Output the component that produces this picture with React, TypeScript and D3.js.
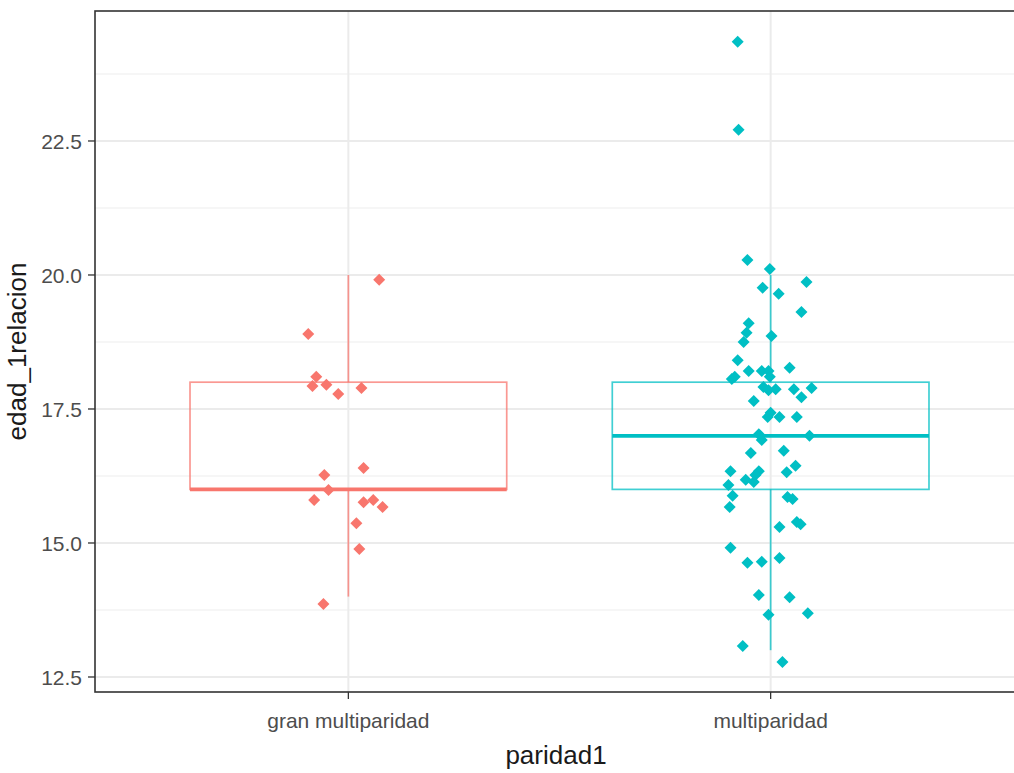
import React from 'react'
import * as d3 from 'd3'

const categories = ['gran multiparidad', 'multiparidad']
const colors = ['#F8766D', '#00BFC4']

// box stats per group: [lower whisker, q1, median, q3, upper whisker]
const boxStats = [
  [14, 16, 16, 18, 20],
  [13, 16, 17, 18, 20],
]

// jittered points: value and horizontal offset (category units)
const granValues = [19.91, 18.9, 18.1, 17.93, 17.95, 17.78, 17.89, 16.27, 16.4, 15.99, 15.8, 15.76, 15.8, 15.67, 15.37, 14.89, 13.86]
const granJitter = [0.073, -0.095, -0.076, -0.085, -0.052, -0.024, 0.031, -0.057, 0.036, -0.047, -0.081, 0.036, 0.059, 0.081, 0.019, 0.026, -0.059]

const multiValues = [
  24.35, 22.71, 20.28, 20.11, 19.76, 19.65, 19.87, 19.31, 19.1, 18.92, 18.75, 18.86, 18.41, 18.21, 18.27, 18.21,
  18.21, 18.1, 18.06, 18.1, 17.91, 17.85, 17.87, 17.87, 17.89, 17.72, 17.65, 17.43, 17.35, 17.35, 17.35, 17.03,
  16.92, 17.0, 16.68, 16.72, 16.34, 16.34, 16.27, 16.18, 16.14, 16.32, 16.44, 16.08, 15.88, 15.67, 15.86, 15.82,
  15.3, 15.39, 15.35, 14.91, 14.63, 14.65, 14.72, 14.03, 13.99, 13.66, 13.69, 13.08, 12.78,
]
const multiJitter = [
  -0.078, -0.076, -0.055, -0.002, -0.019, 0.019, 0.085, 0.073, -0.052, -0.057, -0.064, 0.002, -0.078, -0.052, 0.045, -0.021,
  -0.005, -0.002, -0.092, -0.085, -0.017, -0.005, 0.012, 0.055, 0.097, 0.073, -0.04, 0, -0.007, 0.021, 0.062, -0.028,
  -0.021, 0.092, -0.047, 0.031, -0.095, -0.028, -0.036, -0.059, -0.04, 0.038, 0.059, -0.1, -0.09, -0.097, 0.04, 0.052,
  0.021, 0.062, 0.071, -0.095, -0.055, -0.021, 0.021, -0.028, 0.045, -0.005, 0.088, -0.066, 0.028,
]

const yTicks = [12.5, 15, 17.5, 20, 22.5]
const yMinor = [13.75, 16.25, 18.75, 21.25, 23.75]

const width = 1014
const height = 773
const panel = { left: 95, right: 1024, top: 11, bottom: 692 }
const font = 'Liberation Sans, Arial, Helvetica, sans-serif'

const groups = [
  { values: granValues, jitter: granJitter },
  { values: multiValues, jitter: multiJitter },
]

// ggplot-like discrete scale: positions 1..n with 0.6 expansion
const xPos = d3.scaleLinear().domain([0.4, categories.length + 0.6]).range([panel.left, panel.right])
const y = d3.scaleLinear().domain([12.22, 24.925]).range([panel.bottom, panel.top])

function diamond(cx: number, cy: number, r: number) {
  return `M${cx},${cy - r}L${cx + r},${cy}L${cx},${cy + r}L${cx - r},${cy}Z`
}

export default function App() {
  const boxHalf = 0.375
  return (
    <svg
      width={width}
      height={height}
      style={{ position: 'absolute', left: 0, top: 0, background: 'white' }}
      fontFamily={font}
    >
      <defs>
        <clipPath id="panel">
          <rect x={panel.left} y={panel.top} width={panel.right - panel.left} height={panel.bottom - panel.top} />
        </clipPath>
      </defs>
      <g clipPath="url(#panel)">
        {yMinor.map(t => (
          <line key={'mn' + t} x1={panel.left} x2={panel.right} y1={y(t)} y2={y(t)} stroke="#EEEEEE" strokeWidth={1.2} />
        ))}
        {yTicks.map(t => (
          <line key={'mj' + t} x1={panel.left} x2={panel.right} y1={y(t)} y2={y(t)} stroke="#EBEBEB" strokeWidth={2} />
        ))}
        {categories.map((c, i) => (
          <line key={'vg' + c} x1={xPos(i + 1)} x2={xPos(i + 1)} y1={panel.top} y2={panel.bottom} stroke="#EBEBEB" strokeWidth={2} />
        ))}

        {boxStats.map((s, i) => {
          const cx = xPos(i + 1)
          const x0 = xPos(i + 1 - boxHalf)
          const x1 = xPos(i + 1 + boxHalf)
          const col = colors[i]
          return (
            <g key={'box' + i}>
              <line x1={cx} x2={cx} y1={y(s[3])} y2={y(s[4])} stroke={col} strokeOpacity={0.75} strokeWidth={1.7} />
              <line x1={cx} x2={cx} y1={y(s[1])} y2={y(s[0])} stroke={col} strokeOpacity={0.75} strokeWidth={1.7} />
              <rect
                x={x0}
                y={y(s[3])}
                width={x1 - x0}
                height={y(s[1]) - y(s[3])}
                fill="none"
                stroke={col}
                strokeOpacity={0.75}
                strokeWidth={1.7}
              />
              <line x1={x0} x2={x1} y1={y(s[2])} y2={y(s[2])} stroke={col} strokeWidth={3.8} />
            </g>
          )
        })}

        {groups.map((g, i) =>
          g.values.map((v, j) => (
            <path key={'pt' + i + '-' + j} d={diamond(xPos(i + 1 + g.jitter[j]), y(v), 6)} fill={colors[i]} />
          ))
        )}
      </g>

      <rect
        x={panel.left}
        y={panel.top}
        width={panel.right - panel.left}
        height={panel.bottom - panel.top}
        fill="none"
        stroke="#333333"
        strokeWidth={1.6}
      />

      {yTicks.map(t => (
        <g key={'yt' + t}>
          <line x1={panel.left - 7} x2={panel.left} y1={y(t)} y2={y(t)} stroke="#333333" strokeWidth={1.3} />
          <text x={panel.left - 13} y={y(t)} dy="0.36em" textAnchor="end" fontSize={21} fill="#4D4D4D">
            {t.toFixed(1)}
          </text>
        </g>
      ))}
      {categories.map((c, i) => (
        <g key={'xt' + c}>
          <line x1={xPos(i + 1)} x2={xPos(i + 1)} y1={panel.bottom} y2={panel.bottom + 7} stroke="#333333" strokeWidth={1.3} />
          <text x={xPos(i + 1)} y={728} textAnchor="middle" fontSize={21} fill="#4D4D4D">
            {c}
          </text>
        </g>
      ))}

      <text x={556} y={764} textAnchor="middle" fontSize={26} fill="#1a1a1a">
        paridad1
      </text>
      <text
        transform={`translate(26, ${(panel.top + panel.bottom) / 2}) rotate(-90)`}
        textAnchor="middle"
        fontSize={26}
        fill="#1a1a1a"
      >
        edad_1relacion
      </text>
    </svg>
  )
}
